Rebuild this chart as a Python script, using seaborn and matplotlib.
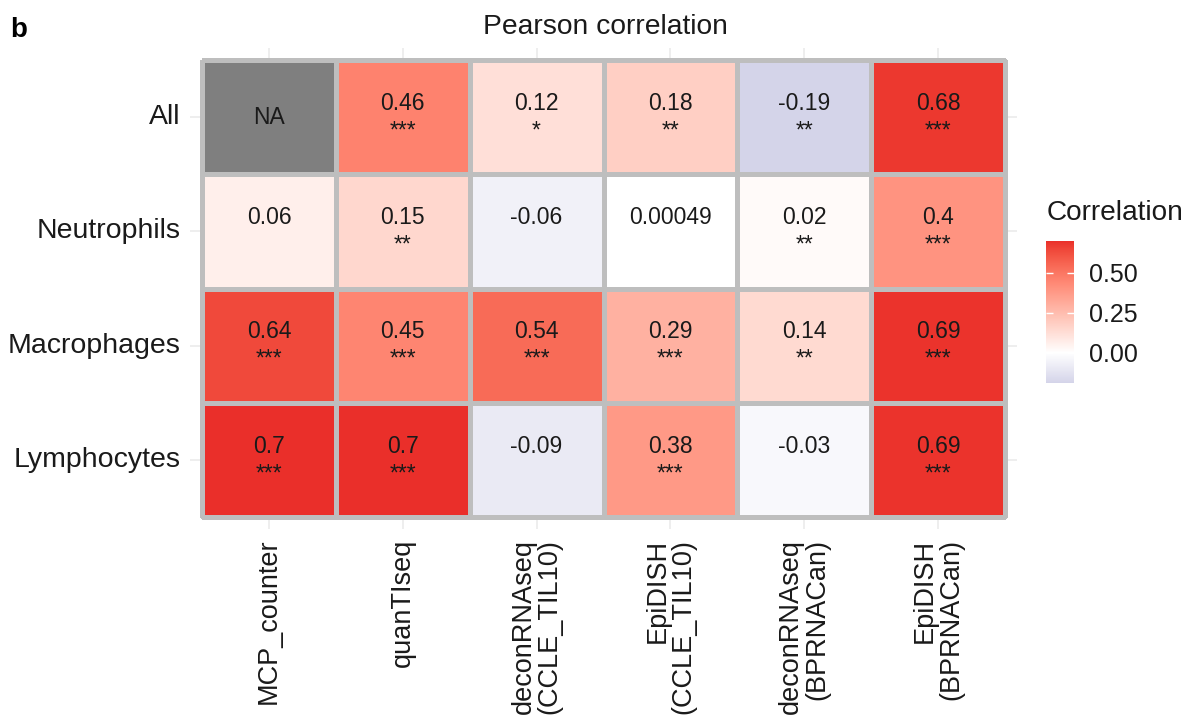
import numpy as np
import pandas as pd
import matplotlib
matplotlib.use("Agg")
import matplotlib.pyplot as plt
from matplotlib.colors import ListedColormap
import seaborn as sns

# ---------------- data ----------------
cell_types = ["All", "Neutrophils", "Macrophages", "Lymphocytes"]
methods = ["MCP_counter", "quanTIseq", "deconRNAseq\n(CCLE_TIL10)",
           "EpiDISH\n(CCLE_TIL10)", "deconRNAseq\n(BPRNACan)", "EpiDISH\n(BPRNACan)"]

corr_all = [np.nan, 0.46, 0.12, 0.18, -0.19, 0.68]
corr_neutrophils = [0.06, 0.15, -0.06, 0.00049, 0.02, 0.4]
corr_macrophages = [0.64, 0.45, 0.54, 0.29, 0.14, 0.69]
corr_lymphocytes = [0.7, 0.7, -0.09, 0.38, -0.03, 0.69]

stars_all = ["", "***", "*", "**", "**", "***"]
stars_neutrophils = ["", "**", "", "", "**", "***"]
stars_macrophages = ["***", "***", "***", "***", "**", "***"]
stars_lymphocytes = ["***", "***", "", "***", "", "***"]

cbar_ticks = [0.0, 0.25, 0.50]
cbar_ticklabels = ["0.00", "0.25", "0.50"]

# ---------------- build tables ----------------
corr = pd.DataFrame([corr_all, corr_neutrophils, corr_macrophages, corr_lymphocytes],
                    index=cell_types, columns=methods)
stars = pd.DataFrame([stars_all, stars_neutrophils, stars_macrophages, stars_lymphocytes],
                     index=cell_types, columns=methods)

labels = np.empty(corr.shape, dtype=object)
for i in range(corr.shape[0]):
    for j in range(corr.shape[1]):
        v = corr.iat[i, j]
        labels[i, j] = "" if np.isnan(v) else f"{v:.2g}\n{stars.iat[i, j]}"

na_data = corr.isna().astype(float).where(corr.isna())
na_labels = np.where(corr.isna().values, "NA", "").astype(object)

# ---------------- colour scale (Lab interpolation, like ggplot gradient2) ----------------
def _f(t):
    d = 6 / 29
    return np.where(t > d ** 3, np.cbrt(t), t / (3 * d * d) + 4 / 29)

def _finv(t):
    d = 6 / 29
    return np.where(t > d, t ** 3, 3 * d * d * (t - 4 / 29))

M = np.array([[0.4124, 0.3576, 0.1805], [0.2126, 0.7152, 0.0722], [0.0193, 0.1192, 0.9505]])
WN = np.array([0.95047, 1.0, 1.08883])

def rgb2lab(rgb):
    c = np.asarray(rgb, float) / 255
    lin = np.where(c <= 0.04045, c / 12.92, ((c + 0.055) / 1.055) ** 2.4)
    xyz = M @ lin / WN
    fx, fy, fz = _f(xyz)
    return np.array([116 * fy - 16, 500 * (fx - fy), 200 * (fy - fz)])

def lab2rgb(lab):
    L, a, b = lab
    fy = (L + 16) / 116
    xyz = np.array([_finv(fy + a / 500), _finv(fy), _finv(fy - b / 200)]) * WN
    lin = np.linalg.solve(M, xyz)
    lin = np.clip(lin, 0, 1)
    c = np.where(lin <= 0.0031308, 12.92 * lin, 1.055 * lin ** (1 / 2.4) - 0.055)
    return np.clip(c, 0, 1)

vmin, vmax = -0.19, 0.70
low_rgb, mid_rgb, high_rgb = (212, 212, 233), (255, 255, 255), (234, 47, 42)
lab_low, lab_mid, lab_high = rgb2lab(low_rgb), rgb2lab(mid_rgb), rgb2lab(high_rgb)
vals = np.linspace(vmin, vmax, 512)
cols = []
for v in vals:
    if v < 0:
        t = v / vmin
        lab = lab_mid + (lab_low - lab_mid) * t
    else:
        t = v / vmax
        lab = lab_mid + (lab_high - lab_mid) * t
    cols.append(lab2rgb(lab))
cmap = ListedColormap(cols)

# ---------------- figure ----------------
W, H = 1187, 718
fig = plt.figure(figsize=(W / 100, H / 100), dpi=100)
fig.patch.set_facecolor("white")
plt.rcParams["font.family"] = ["Liberation Sans", "DejaVu Sans"]

pl, pr, pt, pb = 190, 1017, 48, 529
ax = fig.add_axes([pl / W, 1 - pb / H, (pr - pl) / W, (pb - pt) / H])
cb, cbt, cbb = 1046, 241, 383
cax = fig.add_axes([cb / W, 1 - cbb / H, 28 / W, (cbb - cbt) / H])

txt_kw = dict(fontsize=16.5, color="#1a1a1a", linespacing=1.25, family="Liberation Sans")

sns.heatmap(na_data, ax=ax, cmap=ListedColormap(["#7F7F7F"]), cbar=False,
            annot=na_labels, fmt="", annot_kws=txt_kw,
            linewidths=2.2, linecolor="#BEBEBE")
sns.heatmap(corr, ax=ax, cmap=cmap, vmin=vmin, vmax=vmax, cbar_ax=cax,
            annot=labels, fmt="", annot_kws=txt_kw,
            linewidths=2.2, linecolor="#BEBEBE",
            cbar_kws=dict(ticks=cbar_ticks))

nr, nc = corr.shape
ax.set_xlim(-0.09, nc + 0.09)
ax.set_ylim(nr + 0.105, -0.105)
ax.set_axisbelow(True)
ax.grid(True, color="#EBEBEB", linewidth=1.2)
ax.set_xlabel("")
ax.set_ylabel("")
ax.set_xticks(np.arange(nc) + 0.5)
ax.set_yticks(np.arange(nr) + 0.5)
ax.set_xticklabels(methods, rotation=90, ha="center", va="top", multialignment="right",
                   fontsize=19.5, color="#1a1a1a", linespacing=1.0)
ax.set_yticklabels(cell_types, rotation=0, fontsize=20.5, color="#1a1a1a")
ax.tick_params(axis="both", length=0)
ax.tick_params(axis="x", pad=7)
ax.tick_params(axis="y", pad=7)
for s in ax.spines.values():
    s.set_visible(False)

# colourbar styling
cbar = ax.collections[-1].colorbar
cbar.outline.set_visible(False)
cbar.set_ticks(cbar_ticks)
cbar.set_ticklabels(cbar_ticklabels)
cax.tick_params(axis="y", which="both", left=True, right=True, direction="in",
                color="white", length=5, width=1, labelsize=18, pad=11,
                labelcolor="#1a1a1a")

fig.text(605 / W, 1 - 27 / H, "Pearson correlation", fontsize=20.3, ha="center",
         va="center", color="#1a1a1a")
fig.text(1047 / W, 1 - 213 / H, "Correlation", fontsize=20.2, ha="left",
         va="center", color="#1a1a1a")
fig.text(10 / W, 1 - 30 / H, "b", fontsize=20, fontweight="bold", ha="left",
         va="center", color="black")

fig.savefig("out.png", dpi=100, facecolor="white")
